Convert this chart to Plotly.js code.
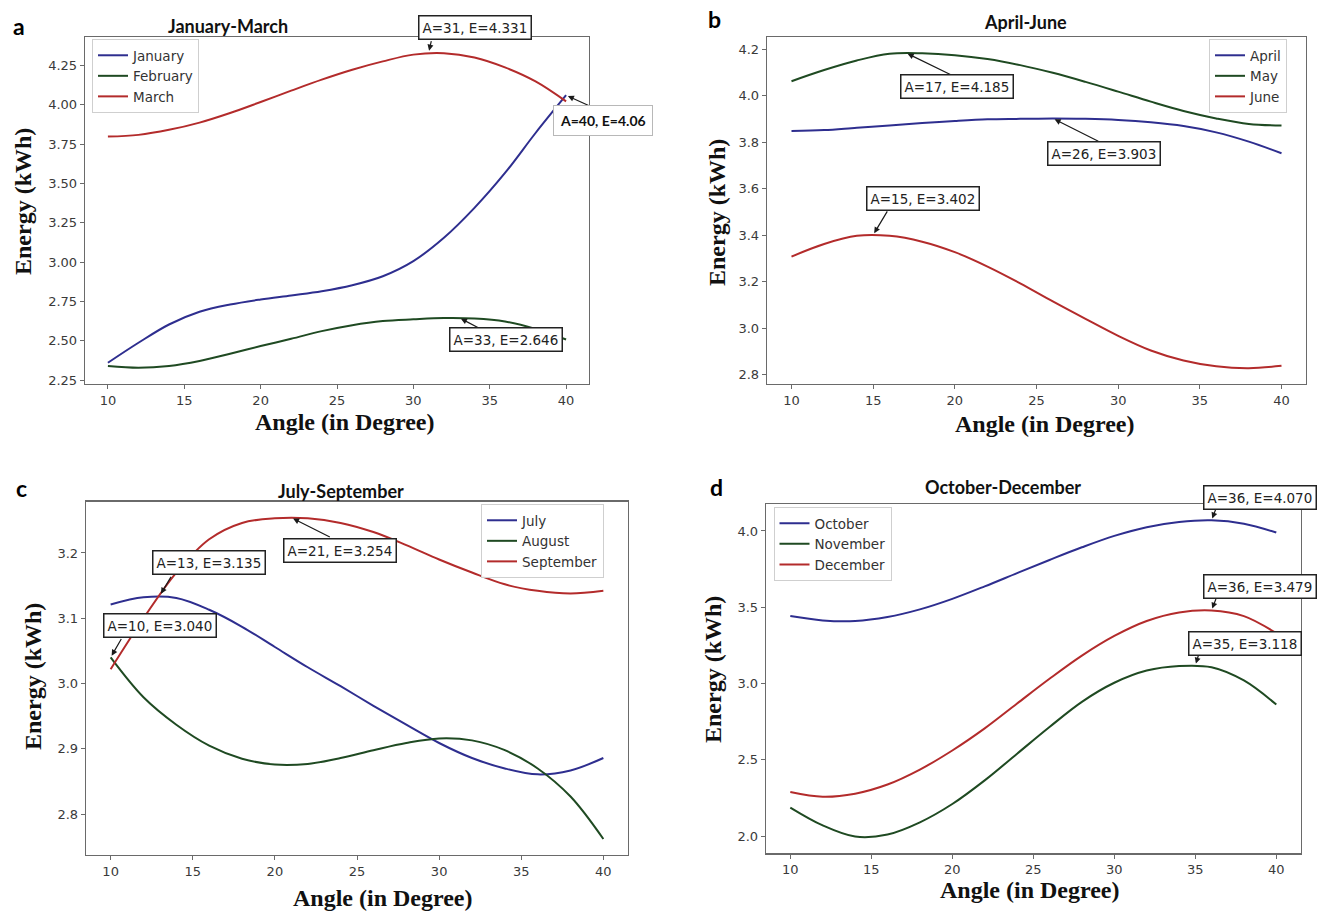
<!DOCTYPE html>
<html><head><meta charset="utf-8">
<script src="https://cdn.plot.ly/plotly-3.0.1.min.js"></script>
<style>html,body{margin:0;padding:0;background:#fff}#chart{width:1323px;height:911px}</style>
</head><body><div id="chart"></div>
<script>
// ---------------- DATA ----------------
const angles = [10, 12, 14, 16, 18, 20, 22, 24, 26, 28, 30, 32, 34, 36, 38, 40];

const january  = [2.360, 2.487, 2.603, 2.684, 2.730, 2.762, 2.788, 2.815, 2.853, 2.910, 3.006, 3.154, 3.344, 3.566, 3.820, 4.060];
const february = [2.339, 2.328, 2.339, 2.371, 2.417, 2.466, 2.512, 2.561, 2.599, 2.625, 2.636, 2.644, 2.641, 2.622, 2.575, 2.508];
const march    = [3.797, 3.808, 3.840, 3.886, 3.947, 4.017, 4.089, 4.159, 4.222, 4.275, 4.318, 4.327, 4.300, 4.237, 4.148, 4.021];

const april = [3.849, 3.853, 3.863, 3.872, 3.883, 3.892, 3.899, 3.901, 3.903, 3.901, 3.896, 3.886, 3.870, 3.843, 3.803, 3.753];
const may   = [4.063, 4.111, 4.152, 4.181, 4.183, 4.175, 4.158, 4.132, 4.099, 4.060, 4.018, 3.975, 3.935, 3.903, 3.879, 3.872];
const june  = [3.309, 3.363, 3.398, 3.398, 3.373, 3.328, 3.266, 3.194, 3.116, 3.041, 2.968, 2.905, 2.862, 2.837, 2.829, 2.839];

const july      = [3.121, 3.132, 3.131, 3.113, 3.087, 3.056, 3.025, 2.996, 2.966, 2.937, 2.909, 2.886, 2.870, 2.861, 2.867, 2.886];
const august    = [3.040, 2.979, 2.937, 2.905, 2.885, 2.876, 2.877, 2.886, 2.898, 2.909, 2.916, 2.913, 2.898, 2.870, 2.827, 2.762];
const september = [3.022, 3.100, 3.170, 3.221, 3.246, 3.253, 3.253, 3.246, 3.232, 3.212, 3.190, 3.170, 3.152, 3.142, 3.138, 3.142];

const october  = [3.442, 3.414, 3.410, 3.436, 3.486, 3.555, 3.637, 3.724, 3.810, 3.893, 3.968, 4.025, 4.059, 4.070, 4.048, 3.990];
const november = [2.187, 2.070, 1.997, 2.010, 2.090, 2.210, 2.365, 2.540, 2.715, 2.880, 3.005, 3.085, 3.115, 3.107, 3.020, 2.862];
const december = [2.289, 2.258, 2.278, 2.338, 2.436, 2.561, 2.706, 2.869, 3.031, 3.183, 3.312, 3.410, 3.466, 3.479, 3.442, 3.330];

const panelTitles  = ['January-March', 'April-June', 'July-September', 'October-December'];
const panelLetters = ['a', 'b', 'c', 'd'];
const monthNames = [
  ['January', 'February', 'March'],
  ['April', 'May', 'June'],
  ['July', 'August', 'September'],
  ['October', 'November', 'December']
];
const panelSeries = [
  [january, february, march],
  [april, may, june],
  [july, august, september],
  [october, november, december]
];
const xTickVals = [10, 15, 20, 25, 30, 35, 40];
const yTickVals = [
  [2.25, 2.50, 2.75, 3.00, 3.25, 3.50, 3.75, 4.00, 4.25],
  [2.8, 3.0, 3.2, 3.4, 3.6, 3.8, 4.0, 4.2],
  [2.8, 2.9, 3.0, 3.1, 3.2],
  [2.0, 2.5, 3.0, 3.5, 4.0]
];
const xTitle = 'Angle (in Degree)';
const yTitle = 'Energy (kWh)';

// labelled points: panel, angle, energy text
const peakPanel  = [0, 0, 0, 1, 1, 1, 2, 2, 2, 3, 3, 3];
const peakA      = [31, 40, 33, 17, 26, 15, 21, 13, 10, 36, 36, 35];
const peakE      = ['4.331', '4.06', '2.646', '4.185', '3.903', '3.402', '3.254', '3.135', '3.040', '4.070', '3.479', '3.118'];

// ---------------- STYLE / LAYOUT ----------------
const W = 1323, H = 911;
const colors = ['#2e2e8f', '#1f4a22', '#b32b2b'];
const boxes = [[85, 589, 37, 384], [767, 1306, 37, 384], [86, 628, 501.7, 855], [766, 1300.6, 504.3, 853.3]];
const yRanges = [[2.225, 4.43], [2.761, 4.253], [2.7375, 3.2785], [1.887, 4.175]];
const yFormats = ['.2f', '.1f', '.1f', '.1f'];
const legendPos = [[92, 39], [1209, 39], [481, 504], [773.5, 507]];
const titlePos  = [[228, 26], [1025, 22], [341, 491], [1003, 487]];
const letterPos = [[19, 26], [714, 19], [21, 488], [716, 487]];
const xTitlePos = [[345, 422], [1045, 424], [383, 898], [1030, 890]];
const yTitlePos = [[23, 202], [717, 213], [33, 677], [713, 670]];
// per label: [box dx, box dy, arrow tail dx, arrow tail dy] (pixels)
const labelGeom = [
  [46, -24.6, 3, -13], [36.5, 25, 24, 11], [47, 22, 23, 12],
  [50.7, 34, 47, 23], [51, 34.6, 47, 23.6], [50, -36, 15, -25],
  [48.7, 32.8, 40, 20], [49, -33.4, 12, -20], [49, -32.4, 11.5, -20],
  [48.5, -23, 5, -13], [48, -23.5, 5, -13], [50, -22.5, 4, -13]
];

const px = p => p / W;
const py = p => 1 - p / H;
const tickFont = {family: 'DejaVu Sans', size: 13, color: '#3a3a3a'};
const axisLine = '#6a6a6a';

const traces = [];
const layout = {
  width: W, height: H,
  margin: {l: 0, r: 0, t: 0, b: 0},
  paper_bgcolor: '#ffffff', plot_bgcolor: '#ffffff',
  showlegend: true,
  annotations: []
};

for (let p = 0; p < 4; p++) {
  const sfx = p === 0 ? '' : String(p + 1);
  const [x0, x1, y0, y1] = boxes[p];
  layout['xaxis' + sfx] = {
    domain: [px(x0), px(x1)], range: [8.5, 41.5], anchor: 'y' + sfx,
    tickvals: xTickVals, ticks: 'outside', ticklen: 4, tickwidth: 1, tickcolor: axisLine,
    showline: true, linecolor: axisLine, linewidth: 1.3, mirror: true,
    showgrid: false, zeroline: false, tickfont: tickFont, fixedrange: true
  };
  layout['yaxis' + sfx] = {
    domain: [py(y1), py(y0)], range: yRanges[p], anchor: 'x' + sfx,
    tickvals: yTickVals[p], tickformat: yFormats[p], ticks: 'outside', ticklen: 4, tickwidth: 1, tickcolor: axisLine,
    showline: true, linecolor: axisLine, linewidth: 1.3, mirror: true,
    showgrid: false, zeroline: false, tickfont: tickFont, fixedrange: true
  };
  const legKey = p === 0 ? 'legend' : 'legend' + (p + 1);
  layout[legKey] = {
    x: px(legendPos[p][0]), y: py(legendPos[p][1]), xanchor: 'left', yanchor: 'top',
    xref: 'paper', yref: 'paper',
    bgcolor: 'rgba(255,255,255,0.92)', bordercolor: '#cfcfcf', borderwidth: 1,
    font: {family: 'DejaVu Sans', size: 13.5, color: '#333333'},
    tracegroupgap: 0, itemwidth: 30
  };
  for (let m = 0; m < 3; m++) {
    traces.push({
      x: angles, y: panelSeries[p][m], type: 'scatter', mode: 'lines',
      name: monthNames[p][m],
      line: {color: colors[m], width: 2, shape: 'spline', smoothing: 1},
      xaxis: 'x' + sfx, yaxis: 'y' + sfx, legend: legKey, hoverinfo: 'x+y'
    });
  }
  layout.annotations.push({
    xref: 'paper', yref: 'paper', x: px(titlePos[p][0]), y: py(titlePos[p][1]),
    text: '<b>' + panelTitles[p] + '</b>', showarrow: false,
    font: {family: 'Lato', size: 18, color: '#111'}, xanchor: 'center', yanchor: 'middle'
  });
  layout.annotations.push({
    xref: 'paper', yref: 'paper', x: px(letterPos[p][0]), y: py(letterPos[p][1]),
    text: '<b>' + panelLetters[p] + '</b>', showarrow: false,
    font: {family: 'Lato', size: 23, color: '#000'}, xanchor: 'center', yanchor: 'middle'
  });
  layout.annotations.push({
    xref: 'paper', yref: 'paper', x: px(xTitlePos[p][0]), y: py(xTitlePos[p][1]),
    text: '<b>' + xTitle + '</b>', showarrow: false,
    font: {family: 'Liberation Serif', size: 24, color: '#111'}, xanchor: 'center', yanchor: 'middle'
  });
  layout.annotations.push({
    xref: 'paper', yref: 'paper', x: px(yTitlePos[p][0]), y: py(yTitlePos[p][1]),
    text: '<b>' + yTitle + '</b>', showarrow: false, textangle: -90,
    font: {family: 'Liberation Serif', size: 24, color: '#111'}, xanchor: 'center', yanchor: 'middle'
  });
}

const boxAnns = [];
for (let i = 0; i < peakA.length; i++) {
  const p = peakPanel[i];
  const sfx = p === 0 ? '' : String(p + 1);
  const g = labelGeom[i];
  const e = parseFloat(peakE[i]);
  layout.annotations.push({
    xref: 'x' + sfx, yref: 'y' + sfx, x: peakA[i], y: e,
    text: '', showarrow: true, ax: g[2], ay: g[3],
    arrowhead: 2, arrowsize: 1, arrowwidth: 1.2, arrowcolor: '#1a1a1a', standoff: 2
  });
  const special = (i === 1);
  boxAnns.push({
    xref: 'x' + sfx, yref: 'y' + sfx, x: peakA[i], y: e,
    text: special ? '<b>A=' + peakA[i] + ', E=' + peakE[i] + '</b>' : 'A=' + peakA[i] + ', E=' + peakE[i],
    showarrow: true, arrowcolor: 'rgba(0,0,0,0)', ax: g[0], ay: g[1],
    bgcolor: '#ffffff',
    bordercolor: special ? '#b8b8b8' : '#222222',
    borderwidth: special ? 1 : 1.5,
    borderpad: special ? 6 : 3,
    font: special ? {family: 'Lato', size: 14, color: '#111'} : {family: 'DejaVu Sans', size: 13.5, color: '#222'}
  });
}
layout.annotations = layout.annotations.concat(boxAnns);

Plotly.newPlot('chart', traces, layout, {staticPlot: true, displayModeBar: false});
</script>
</body></html>
